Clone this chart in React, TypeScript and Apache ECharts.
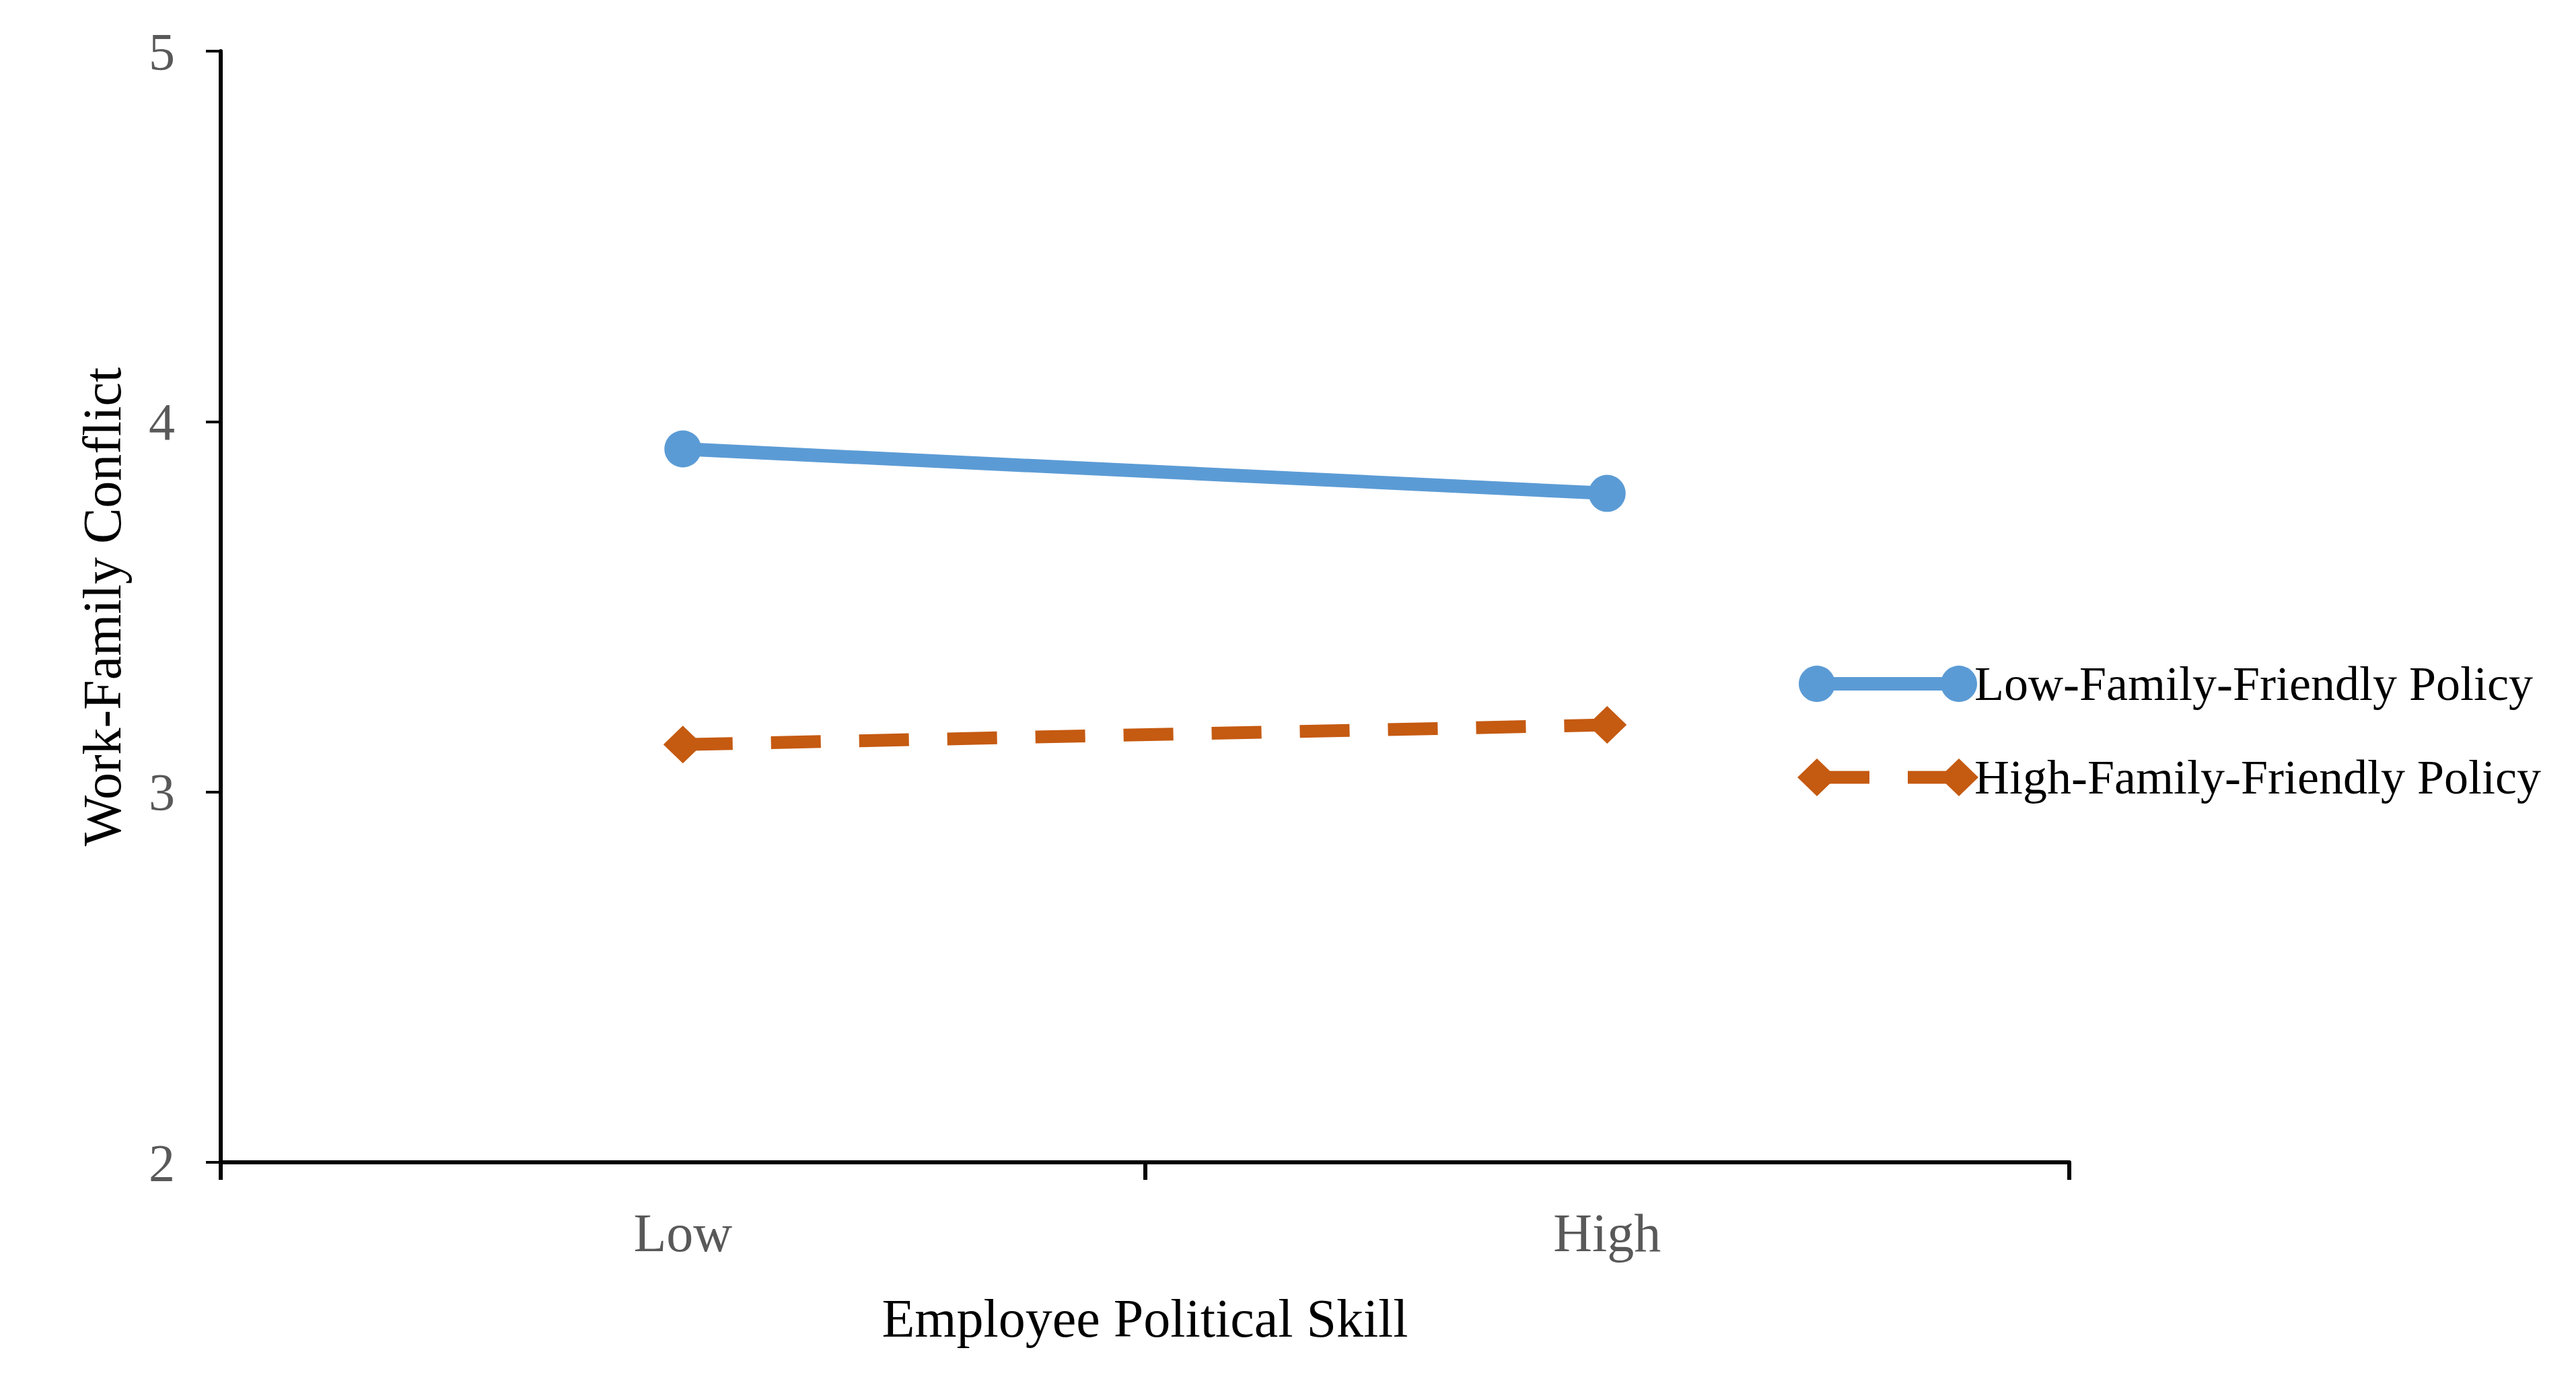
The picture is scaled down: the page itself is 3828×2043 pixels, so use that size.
import React, { useEffect, useRef } from "react";
import * as echarts from "echarts";

const categories = ["Low", "High"];
const lowPolicy = [3.926, 3.806];
const highPolicy = [3.128, 3.181];
const seriesNames = ["Low-Family-Friendly Policy", "High-Family-Friendly Policy"];
const yMin = 2;
const yMax = 5;
const yInterval = 1;

const BLUE = "#5B9BD5";
const ORANGE = "#C55A11";
const FONT = "'Liberation Serif', 'DejaVu Serif', serif";

export default function App() {
  const ref = useRef<HTMLDivElement>(null);

  useEffect(() => {
    document.body.style.margin = "0";
    if (!ref.current) return;
    const chart = echarts.init(ref.current, null, { renderer: "svg" });

    const legX1 = 2700;
    const legX2 = 2911;
    const legY1 = 1016;
    const legY2 = 1155;
    const d = 28;

    chart.setOption({
      animation: false,
      backgroundColor: "#ffffff",
      grid: { left: 328, right: 753, top: 76, bottom: 316, containLabel: false },
      xAxis: {
        type: "category",
        data: categories,
        boundaryGap: true,
        name: "Employee Political Skill",
        nameLocation: "middle",
        nameGap: 192,
        nameTextStyle: { color: "#000000", fontSize: 80, fontFamily: FONT },
        axisLine: { show: true, lineStyle: { color: "#000000", width: 6 } },
        axisTick: { show: true, length: 26, lineStyle: { color: "#000000", width: 6 } },
        axisLabel: { color: "#595959", fontSize: 80, fontFamily: FONT, margin: 65 },
        splitLine: { show: false },
      },
      yAxis: {
        type: "value",
        min: yMin,
        max: yMax,
        interval: yInterval,
        name: "Work-Family Conflict",
        nameLocation: "middle",
        nameGap: 136,
        nameRotate: 90,
        nameTextStyle: { color: "#000000", fontSize: 80, fontFamily: FONT },
        axisLine: { show: true, lineStyle: { color: "#000000", width: 6 } },
        axisTick: { show: true, length: 22, lineStyle: { color: "#000000", width: 4 } },
        axisLabel: { color: "#595959", fontSize: 78, fontFamily: FONT, margin: 68 },
        splitLine: { show: false },
      },
      series: [
        {
          name: seriesNames[0],
          type: "line",
          data: lowPolicy,
          symbol: "circle",
          symbolSize: 55,
          itemStyle: { color: BLUE },
          lineStyle: { color: BLUE, width: 20 },
        },
        {
          name: seriesNames[1],
          type: "line",
          data: highPolicy,
          symbol: "diamond",
          symbolSize: [58, 56],
          itemStyle: { color: ORANGE },
          lineStyle: { color: ORANGE, width: 19, type: [74, 57] },
        },
      ],
      graphic: [
        {
          type: "line",
          shape: { x1: legX1, y1: legY1, x2: legX2, y2: legY1 },
          style: { stroke: BLUE, lineWidth: 20 },
        },
        { type: "circle", shape: { cx: legX1, cy: legY1, r: 27 }, style: { fill: BLUE } },
        { type: "circle", shape: { cx: legX2, cy: legY1, r: 27 }, style: { fill: BLUE } },
        {
          type: "text",
          x: 2934,
          y: legY1,
          style: {
            text: seriesNames[0],
            fill: "#000000",
            fontSize: 72,
            fontFamily: FONT,
            textAlign: "left",
            textVerticalAlign: "middle",
          },
        },
        {
          type: "line",
          shape: { x1: legX1, y1: legY2, x2: legX2, y2: legY2 },
          style: { stroke: ORANGE, lineWidth: 19, lineDash: [78, 57] },
        },
        {
          type: "polygon",
          shape: { points: [[legX1 - 29, legY2], [legX1, legY2 - d], [legX1 + 29, legY2], [legX1, legY2 + d]] },
          style: { fill: ORANGE },
        },
        {
          type: "polygon",
          shape: { points: [[legX2 - 29, legY2], [legX2, legY2 - d], [legX2 + 29, legY2], [legX2, legY2 + d]] },
          style: { fill: ORANGE },
        },
        {
          type: "text",
          x: 2934,
          y: legY2,
          style: {
            text: seriesNames[1],
            fill: "#000000",
            fontSize: 72,
            fontFamily: FONT,
            textAlign: "left",
            textVerticalAlign: "middle",
          },
        },
      ],
    });

    return () => {
      chart.dispose();
    };
  }, []);

  return <div ref={ref} style={{ width: 3828, height: 2043 }} />;
}
